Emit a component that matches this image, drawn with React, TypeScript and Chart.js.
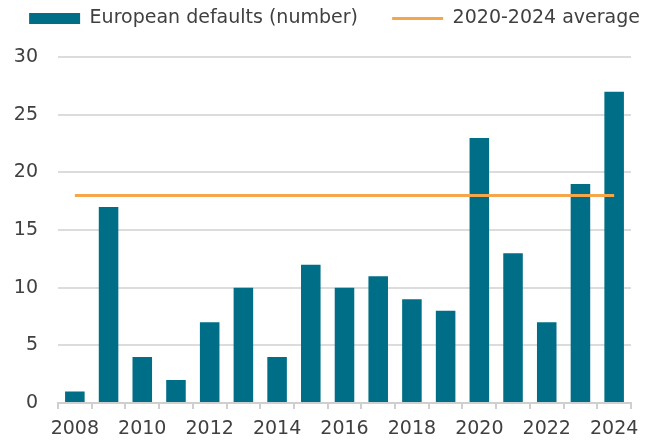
import React, { useEffect, useRef } from "react";
import { Chart, registerables } from "chart.js";

Chart.register(...registerables);

const years = ["2008","2009","2010","2011","2012","2013","2014","2015","2016","2017","2018","2019","2020","2021","2022","2023","2024"];
const defaults = [1, 17, 4, 2, 7, 10, 4, 12, 10, 11, 9, 8, 23, 13, 7, 19, 27];
const averageValue = 18;
const average = years.map(() => averageValue);
const yTicks = [0, 5, 10, 15, 20, 25, 30];
const barLabel = "European defaults (number)";
const lineLabel = "2020-2024 average";

const FONT = "'DejaVu Sans'";
const TEXT = "#404040";

export default function App() {
  const ref = useRef<HTMLCanvasElement | null>(null);
  useEffect(() => {
    if (!ref.current) return;
    const chart = new Chart(ref.current, {
      type: "bar",
      data: {
        labels: years,
        datasets: [
          {
            type: "line",
            label: lineLabel,
            data: average,
            borderColor: "#F5A64A",
            backgroundColor: "#F5A64A",
            borderWidth: 3,
            pointRadius: 0,
            pointStyle: "line",
            order: 0,
          } as any,
          {
            type: "bar",
            label: barLabel,
            data: defaults,
            backgroundColor: "#006E87",
            borderWidth: 0,
            barPercentage: 0.58,
            categoryPercentage: 1,
            pointStyle: "rect",
            order: 1,
          } as any,
        ],
      },
      options: {
        animation: false,
        responsive: true,
        maintainAspectRatio: false,
        layout: { padding: { left: 0, right: 12, top: 5, bottom: 2 } },
        plugins: {
          tooltip: { enabled: false },
          title: {
            display: true,
            text: " ",
            font: { size: 1 },
            padding: { top: 0, bottom: 18 },
          },
          legend: {
            position: "top",
            align: "end",
            reverse: true,
            weight: 3000,
            labels: {
              usePointStyle: true,
              pointStyleWidth: 51,
              boxHeight: 11,
              padding: 4,
              color: TEXT,
              font: { family: FONT, size: 19 },
              generateLabels: (c: any) => {
                const items = Chart.defaults.plugins.legend.labels.generateLabels(c);
                return items.map((it: any) =>
                  it.text === barLabel ? { ...it, text: barLabel + "     " } : it
                );
              },
            },
          } as any,
        },
        scales: {
          x: {
            offset: true,
            grid: {
              offset: true,
              drawOnChartArea: false,
              drawTicks: true,
              tickLength: 6,
              color: "#cfcfcf",
              lineWidth: 2,
            },
            border: { color: "#cfcfcf", width: 2 },
            ticks: {
              autoSkip: false,
              maxRotation: 0,
              color: TEXT,
              padding: 9,
              font: { family: FONT, size: 19 },
              callback: (_v: any, i: number) => (i % 2 === 0 ? years[i] : ""),
            },
            afterFit: (axis: any) => {
              axis.height = 37;
            },
          },
          y: {
            min: 0,
            max: 30,
            afterBuildTicks: (axis: any) => {
              axis.ticks = yTicks.map((v) => ({ value: v }));
            },
            afterFit: (axis: any) => {
              axis.width = 58;
            },
            grid: { color: "#dcdcdc", lineWidth: 2, drawTicks: false },
            border: { display: false },
            ticks: {
              color: TEXT,
              padding: 20,
              font: { family: FONT, size: 19 },
            },
          },
          yRight: {
            position: "right",
            min: 0,
            max: 1,
            grid: { display: false, drawTicks: false },
            border: { display: false },
            ticks: { display: false },
            afterFit: (axis: any) => {
              axis.width = 13;
            },
          },
        },
      },
    });
    return () => chart.destroy();
  }, []);
  return (
    <div style={{ position: "fixed", left: 0, top: 0, width: 656, height: 442, background: "#fff" }}>
      <canvas ref={ref} />
    </div>
  );
}
